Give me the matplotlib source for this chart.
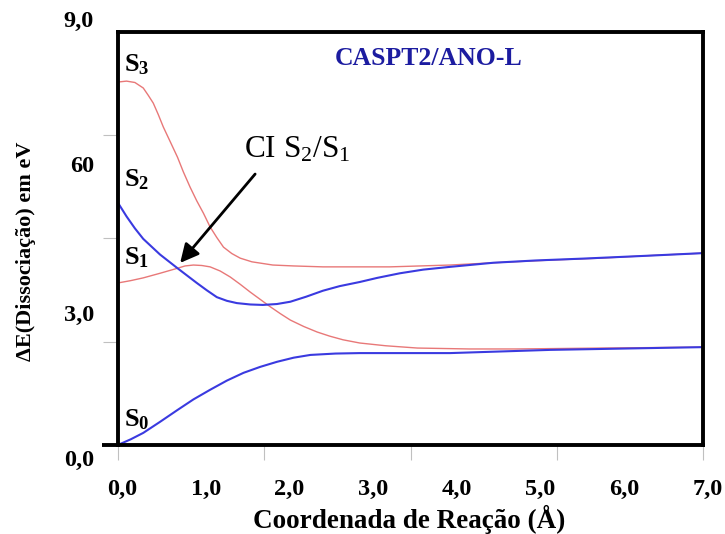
import matplotlib
matplotlib.use("Agg")
import matplotlib.pyplot as plt

plt.rcParams['font.family'] = ['Liberation Serif', 'DejaVu Serif']
plt.rcParams['mathtext.fontset'] = 'custom'
plt.rcParams['mathtext.rm'] = 'Liberation Serif'
plt.rcParams['mathtext.bf'] = 'Liberation Serif:bold'
plt.rcParams['mathtext.it'] = 'Liberation Serif:italic'

# curvas (coordenada, energia)
s0_x = [0.0, 0.15, 0.30, 0.50, 0.71, 0.90, 1.10, 1.30, 1.50, 1.70, 1.90, 2.10, 2.30, 2.60, 2.89, 3.97, 5.17, 7.0]
s0_y = [0.0, 0.12, 0.26, 0.50, 0.76, 0.99, 1.20, 1.40, 1.57, 1.70, 1.81, 1.90, 1.96, 1.99, 2.00, 2.00, 2.07, 2.13]

s1_x = [0.0, 0.15, 0.30, 0.50, 0.71, 0.80, 0.90, 1.00, 1.10, 1.22, 1.34, 1.46, 1.58, 1.70, 1.82, 1.94,
        2.06, 2.22, 2.38, 2.53, 2.69, 2.89, 3.20, 3.58, 4.20, 4.77, 5.80, 7.0]
s1_y = [3.53, 3.58, 3.64, 3.74, 3.85, 3.90, 3.92, 3.91, 3.88, 3.79, 3.66, 3.50, 3.33, 3.17, 3.01, 2.86,
        2.72, 2.58, 2.46, 2.37, 2.29, 2.22, 2.16, 2.11, 2.09, 2.09, 2.11, 2.13]

s2_x = [0.0, 0.10, 0.20, 0.30, 0.50, 0.71, 0.94, 1.06, 1.18, 1.30, 1.42, 1.58, 1.73, 1.90, 2.06, 2.25, 2.45,
        2.65, 2.89, 3.10, 3.37, 3.65, 3.97, 4.49, 5.00, 5.56, 6.30, 7.0]
s2_y = [5.27, 4.98, 4.72, 4.49, 4.15, 3.85, 3.53, 3.37, 3.22, 3.14, 3.09, 3.06, 3.05, 3.07, 3.12, 3.23, 3.36,
        3.46, 3.55, 3.64, 3.74, 3.82, 3.88, 3.97, 4.02, 4.06, 4.12, 4.18]

s3_x = [0.0, 0.10, 0.20, 0.30, 0.36, 0.42, 0.48, 0.54, 0.62, 0.71, 0.78, 0.86, 0.94, 1.02, 1.10, 1.18,
        1.26, 1.36, 1.46, 1.60, 1.85, 2.10, 2.45, 3.25, 3.97, 4.49, 5.20, 5.77, 6.40, 7.0]
s3_y = [7.91, 7.93, 7.90, 7.78, 7.62, 7.45, 7.20, 6.93, 6.62, 6.27, 5.95, 5.62, 5.32, 5.05, 4.75, 4.52,
        4.31, 4.17, 4.07, 3.99, 3.92, 3.90, 3.88, 3.88, 3.92, 3.97, 4.03, 4.07, 4.13, 4.18]

xtick_labels = ["0,0", "1,0", "2,0", "3,0", "4,0", "5,0", "6,0", "7,0"]
ytick_labels = ["0,0", "3,0", "60", "9,0"]

blue = "#3a3ae0"
red = "#e87878"

fig = plt.figure(figsize=(7.25, 5.34), dpi=100)
ax = fig.add_axes([0.163, 0.167, 0.807, 0.773])

ax.plot(s3_x, s3_y, color=red, lw=1.0)
ax.plot(s1_x, s1_y, color=red, lw=1.0)
ax.plot(s2_x, s2_y, color=blue, lw=1.5)
ax.plot(s0_x, s0_y, color=blue, lw=1.5)

ax.set_xlim(0, 7)
ax.set_ylim(0, 9)

for s in ax.spines.values():
    s.set_linewidth(2.8)
    s.set_color("black")
ax.plot([-0.028, 0], [0, 0], transform=ax.transAxes, color="black", lw=2.8,
        clip_on=False, solid_capstyle="butt")

# marcas cinzas
ax.set_xticks([0, 1.75, 3.5, 5.25, 7])
ax.set_xticklabels([])
ax.set_yticks([2.25, 4.5, 6.75])
ax.set_yticklabels([])
ax.tick_params(axis="both", direction="out", length=11, width=0.8, color="#c0c0c0")

# rotulos dos eixos
for i, lab in enumerate(xtick_labels):
    ax.text(i + 0.05, -0.98, lab, ha="center", va="center", fontsize=17.5, fontweight="bold")
ypos = [-0.33, 2.83, 6.06, 9.24]
for p, lab in zip(ypos, ytick_labels):
    ax.text(-0.29, p, lab, ha="right", va="center", fontsize=17.5, fontweight="bold",
            clip_on=False)

ax.set_xlabel("Coordenada de Reação (Å)", fontsize=19.5, fontweight="bold")
ax.xaxis.set_label_coords(0.497, -0.182)
ax.xaxis.label.set_va("center")
ax.set_ylabel("ΔE(Dissociação) em eV", fontsize=16, fontweight="bold")
ax.yaxis.set_label_coords(-0.157, 0.47)
ax.yaxis.label.set_va("center")

ax.text(0.07, 8.28, r"$\mathbf{S_3}$", fontsize=19, va="center")
ax.text(0.07, 5.77, r"$\mathbf{S_2}$", fontsize=19, va="center")
ax.text(0.07, 4.07, r"$\mathbf{S_1}$", fontsize=19, va="center")
ax.text(0.07, 0.54, r"$\mathbf{S_0}$", fontsize=19, va="center")

ax.text(3.71, 8.43, "CASPT2/ANO-L", color="#1c1ca0", fontsize=18.5, fontweight="bold",
        ha="center", va="center")
ax.text(1.50, 6.43, r"CI $\mathrm{S_2/S_1}$", fontsize=22.5, va="center")
ax.annotate("", xy=(0.72, 3.92), xytext=(1.66, 5.95),
            arrowprops=dict(arrowstyle="-|>", lw=2, color="black", mutation_scale=28))

fig.savefig("out.png", dpi=100)
